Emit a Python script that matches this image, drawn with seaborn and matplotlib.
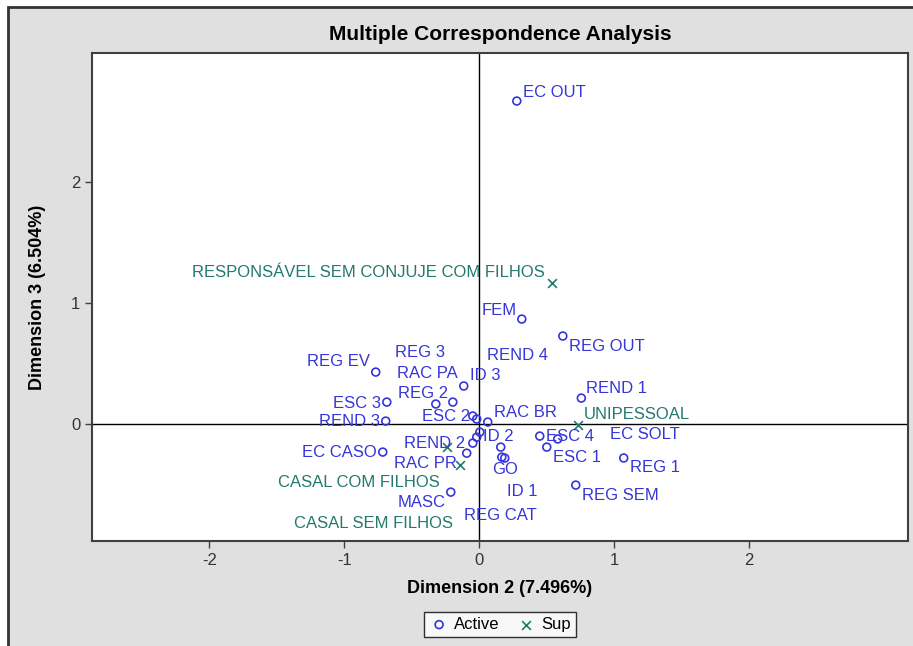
import matplotlib
matplotlib.use("Agg")
import matplotlib.pyplot as plt
import seaborn as sns
from matplotlib.patches import Rectangle

# coordenadas das categorias ativas (Dimension 2 x Dimension 3)
active_labels = ["EC OUT", "FEM", "REG OUT", "REG EV", "ID 3", "REG 2", "RAC PA",
                 "ESC 3", "REND 3", "EC CASO", "MASC", "REND 1", "REG 1", "REG SEM",
                 "ESC 2", "REG 3", "RAC BR", "ID 2", "REND 4", "REND 2", "RAC PR",
                 "ID 1", "GO", "REG CAT", "ESC 4", "EC SOLT", "ESC 1"]
active_dim2 = [0.278, 0.315, 0.619, -0.767, -0.115, -0.196, -0.322,
               -0.685, -0.693, -0.715, -0.211, 0.756, 1.070, 0.715,
               -0.048, -0.019, 0.063, 0.004, -0.019, -0.048, -0.093,
               0.159, 0.167, 0.189, 0.448, 0.581, 0.500]
active_dim3 = [2.672, 0.870, 0.730, 0.432, 0.317, 0.184, 0.168,
               0.184, 0.027, -0.229, -0.560, 0.217, -0.278, -0.502,
               0.069, 0.044, 0.019, -0.064, -0.106, -0.155, -0.238,
               -0.188, -0.271, -0.279, -0.097, -0.121, -0.188]

# categorias suplementares
sup_labels = ["RESPONSÁVEL SEM CONJUJE COM FILHOS", "UNIPESSOAL",
              "CASAL COM FILHOS", "CASAL SEM FILHOS"]
sup_dim2 = [0.537, 0.730, -0.241, -0.144]
sup_dim3 = [1.168, -0.006, -0.188, -0.337]

# posicao dos rotulos (alinhamento, dx px, dy px para cima)
active_pos = [("left", 6, 9), ("right", -5, 9), ("left", 6, -10), ("right", -6, 11),
              ("left", 6, 10), ("right", -5, 9), ("left", -39, 31), ("right", -6, -1),
              ("right", -6, 0), ("right", -6, 0), ("right", -5, -10), ("left", 5, 10),
              ("left", 6, -10), ("left", 6, -10), ("right", -3, 0), ("left", -82, 67),
              ("left", 6, 10), ("left", 3, -4), ("left", 10, 82), ("right", -8, 0),
              ("right", -10, -10), ("left", 6, -44), ("left", -10, -12), ("left", -41, -57),
              ("left", 6, 0), ("left", 52, 4), ("left", 6, -10)]
sup_pos = [("right", -7, 11), ("left", 6, 11), ("right", -7, -35), ("right", -7, -58)]

azul = "#3535DA"
verde = "#237A6C"

sns.set_style("white")
plt.rcParams["font.family"] = ["Liberation Sans", "DejaVu Sans"]
plt.rcParams["axes.unicode_minus"] = False
plt.rcParams["text.color"] = "black"
plt.rcParams["axes.labelcolor"] = "black"

fig = plt.figure(figsize=(9.13, 6.46), dpi=100)
fig.patch.set_facecolor("white")
fig.patches.append(Rectangle((8 / 913, -0.05), 1.1, 1.05 - 7 / 646,
                             transform=fig.transFigure, facecolor="#e0e0e0",
                             edgecolor="#333333", linewidth=2, zorder=-10))

ax = fig.add_axes([92 / 913, 1 - 541 / 646, (908 - 92) / 913, (541 - 53) / 646])
ax.set_facecolor("white")

ax.axhline(0, color="black", lw=1, zorder=1)
ax.axvline(0, color="black", lw=1, zorder=1)

sns.scatterplot(x=active_dim2, y=active_dim3, marker="o", s=32, facecolor="none",
                edgecolor=azul, linewidth=1.2, ax=ax, label="Active", zorder=3)
sns.scatterplot(x=sup_dim2, y=sup_dim3, marker="x", s=40, color=verde,
                linewidth=1.2, ax=ax, label="Sup", zorder=3)

for lab, x, y, (ha, dx, dy) in zip(active_labels, active_dim2, active_dim3, active_pos):
    ax.annotate(lab, (x, y), xytext=(dx * 0.72, dy * 0.72), textcoords="offset points",
                ha=ha, va="center", fontsize=12, color=azul)
for lab, x, y, (ha, dx, dy) in zip(sup_labels, sup_dim2, sup_dim3, sup_pos):
    ax.annotate(lab, (x, y), xytext=(dx * 0.72, dy * 0.72), textcoords="offset points",
                ha=ha, va="center", fontsize=12, color=verde)

ax.set_xlim(-2.869, 3.176)
ax.set_ylim(-0.964, 3.069)
ax.set_xticks([-2, -1, 0, 1, 2])
ax.set_yticks([0, 1, 2])
ax.tick_params(direction="out", length=5, width=1, color="#404040",
               labelsize=12, labelcolor="#333333", left=True, bottom=True)
for s in ax.spines.values():
    s.set_color("#404040")
    s.set_linewidth(1.5)

ax.set_xlabel("Dimension 2 (7.496%)", fontsize=13, fontweight="bold", labelpad=9)
ax.set_ylabel("Dimension 3 (6.504%)", fontsize=13, fontweight="bold", labelpad=18)
fig.text(500 / 913, 1 - 35 / 646, "Multiple Correspondence Analysis",
         ha="center", va="center", fontsize=15, fontweight="bold", color="black")

ax.get_legend().remove()
h, l = ax.get_legend_handles_labels()
leg = fig.legend(h, l, loc="center", bbox_to_anchor=(500 / 913, 1 - 624.5 / 646),
                 ncol=2, fontsize=12, frameon=True, fancybox=False,
                 handletextpad=0.3, columnspacing=1.0, borderpad=0.3,
                 handlelength=1.2, labelcolor="black")
leg.get_frame().set_edgecolor("black")
leg.get_frame().set_linewidth(1)
leg.get_frame().set_facecolor("white")

fig.savefig("out.png", dpi=100)
